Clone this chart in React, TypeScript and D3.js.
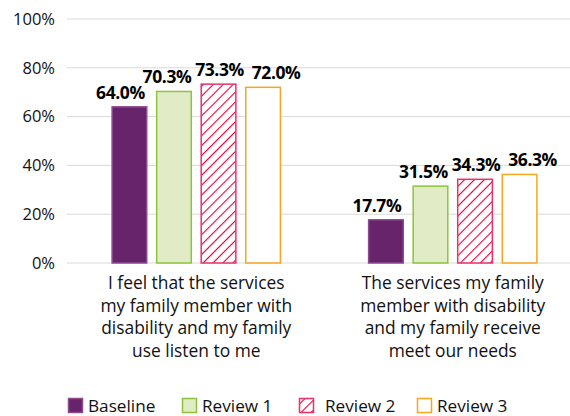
import React, { useRef, useEffect } from 'react';
import * as d3 from 'd3';

const categories = [
  ['I feel that the services', 'my family member with', 'disability and my family', 'use listen to me'],
  ['The services my family', 'member with disability', 'and my family receive', 'meet our needs'],
];
const seriesNames = ['Baseline', 'Review 1', 'Review 2', 'Review 3'];
const baseline = [64.0, 17.7];
const review1 = [70.3, 31.5];
const review2 = [73.3, 34.3];
const review3 = [72.0, 36.3];
const yTicks = [0, 20, 40, 60, 80, 100];

const W = 570;
const H = 416;
const FONT = '"Open Sans", Lato, sans-serif';

const App = () => {
  const ref = useRef<SVGSVGElement | null>(null);

  useEffect(() => {
    const svg = d3.select(ref.current);
    svg.selectAll('*').remove();

    const values = [baseline, review1, review2, review3];
    const fills = ['#68246b', '#e1ebc5', 'url(#hatch)', '#ffffff'];
    const strokes = ['#8e4a8f', '#8cc43f', '#e8326a', '#f6a623'];
    const labelDx = [-9, -7, 1, 13];

    const defs = svg.append('defs');
    const pat = defs.append('pattern')
      .attr('id', 'hatch')
      .attr('patternUnits', 'userSpaceOnUse')
      .attr('width', 7)
      .attr('height', 7)
      .attr('patternTransform', 'rotate(45)');
    pat.append('rect').attr('width', 7).attr('height', 7).attr('fill', '#fff');
    pat.append('line')
      .attr('x1', 0).attr('y1', 0).attr('x2', 0).attr('y2', 7)
      .attr('stroke', '#e4003b').attr('stroke-width', 2.2);

    const y = d3.scaleLinear().domain([0, 100]).range([263, 19]);
    const x0 = d3.scaleBand<number>()
      .domain(d3.range(categories.length))
      .range([68, 581])
      .paddingInner(0.34)
      .paddingOuter(0.17);
    const x1 = d3.scaleBand<number>()
      .domain(d3.range(seriesNames.length))
      .range([0, x0.bandwidth()])
      .paddingInner(0.2);

    // grid
    svg.append('g')
      .selectAll('line')
      .data(yTicks)
      .join('line')
      .attr('x1', 67)
      .attr('x2', W)
      .attr('y1', d => y(d))
      .attr('y2', d => y(d))
      .attr('stroke', '#d9d9d9')
      .attr('stroke-width', 1);

    svg.append('g')
      .selectAll('text')
      .data(yTicks)
      .join('text')
      .attr('x', 55)
      .attr('y', d => y(d))
      .attr('dy', '0.35em')
      .attr('text-anchor', 'end')
      .attr('font-family', FONT)
      .attr('font-size', 16.5)
      .attr('fill', '#111')
      .text(d => `${d}%`);

    // bars
    values.forEach((vals, si) => {
      const g = svg.append('g');
      g.selectAll('rect')
        .data(vals)
        .join('rect')
        .attr('x', (_, ci) => x0(ci)! + x1(si)! + 0.5)
        .attr('y', d => y(d))
        .attr('width', x1.bandwidth() - 1)
        .attr('height', d => y(0) - y(d))
        .attr('fill', fills[si])
        .attr('stroke', strokes[si])
        .attr('stroke-width', 1.5);
      g.selectAll('text')
        .data(vals)
        .join('text')
        .attr('x', (_, ci) => x0(ci)! + x1(si)! + x1.bandwidth() / 2 + labelDx[si])
        .attr('y', d => y(d) - 8)
        .attr('text-anchor', 'middle')
        .attr('font-family', FONT)
        .attr('font-weight', 'bold')
        .attr('font-size', 17.5)
        .attr('letter-spacing', -0.4)
        .attr('fill', '#000')
        .text(d => `${d.toFixed(1)}%`);
    });

    // category labels
    categories.forEach((lines, ci) => {
      svg.append('text')
        .attr('x', x0(ci)! + x0.bandwidth() / 2)
        .attr('y', 289)
        .attr('text-anchor', 'middle')
        .attr('font-family', FONT)
        .attr('font-size', 17.4)
        .attr('fill', '#111')
        .selectAll('tspan')
        .data(lines)
        .join('tspan')
        .attr('x', x0(ci)! + x0.bandwidth() / 2)
        .attr('dy', (_, i) => (i === 0 ? 0 : 22.5))
        .text(d => d);
    });

    // legend
    const legendX = [68, 182, 299, 417];
    const lg = svg.append('g');
    seriesNames.forEach((name, si) => {
      lg.append('rect')
        .attr('x', legendX[si] + 0.5)
        .attr('y', 398.5)
        .attr('width', 14)
        .attr('height', 14)
        .attr('fill', fills[si])
        .attr('stroke', strokes[si])
        .attr('stroke-width', 1.5);
      lg.append('text')
        .attr('x', legendX[si] + (si === 2 ? 26 : 20))
        .attr('y', 412)
        .attr('font-family', FONT)
        .attr('font-size', 17.2)
        .attr('fill', '#111')
        .text(name);
    });
  }, []);

  return (
    <svg ref={ref} width={W} height={H} style={{ position: 'absolute', left: 0, top: 0 }} />
  );
};

export default App;
